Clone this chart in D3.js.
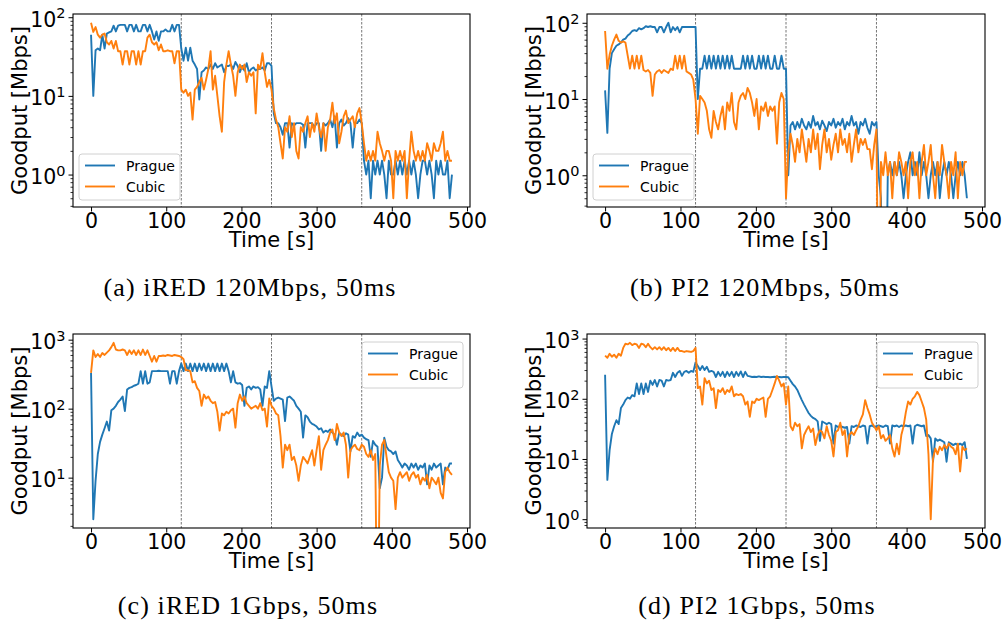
<!DOCTYPE html>
<html>
<head>
<meta charset="utf-8">
<script src="https://cdn.jsdelivr.net/npm/d3@7"></script>
<style>
  body { margin: 0; background: #fff; }
  svg { display: block; }
</style>
</head>
<body>
<svg id="fig" width="1006" height="623"></svg>
<script>
// goodput samples, one every 3 s from 0 to 480 s (rows = 30 s)
const sampleStep = 3;
const times = d3.range(0, 481, sampleStep);
const xTicks = [0, 100, 200, 300, 400, 500];
const phaseChanges = [120, 240, 360];
const seriesNames = ['Prague', 'Cubic'];
const seriesColors = ['#1f77b4', '#ff7f0e'];
const captions = ['(a) iRED 120Mbps, 50ms', '(b) PI2 120Mbps, 50ms', '(c) iRED 1Gbps, 50ms', '(d) PI2 1Gbps, 50ms'];

const pragueA = [
  60, 10, 38, 40, 38, 60, 40, 62, 64, 66,
  78, 66, 78, 80, 80, 80, 66, 80, 80, 66,
  80, 66, 66, 80, 80, 66, 80, 66, 52, 66,
  50, 66, 66, 70, 66, 66, 80, 66, 80, 80,
  40, 28, 41, 28, 41, 28, 25, 22, 9, 20,
  21, 23, 22, 25, 22, 26, 23, 24, 25, 20,
  24, 24, 25, 22, 27, 24, 20, 24, 21, 26,
  20, 22, 23, 21, 22, 22, 23, 21, 26, 26,
  24, 6, 4.5, 4.5, 4, 3.2, 4.5, 4.5, 2.2, 4.5,
  4.2, 4.5, 4.5, 4.5, 4.3, 2.2, 4.5, 4.5, 4.5, 4,
  4.5, 4.5, 2, 4.5, 4.2, 4.5, 5, 4, 5.5, 2.2,
  4.5, 5, 4.2, 4.5, 5.2, 4.5, 2.2, 4.5, 4.5, 5,
  4.5, 1.5, 1, 1.5, 0.5, 1.5, 1, 1.5, 1, 1.5,
  1, 0.5, 1.5, 1, 1, 1.5, 1, 1.5, 1, 1.5,
  1, 1.5, 1, 1.5, 1, 0.5, 1, 1.5, 1.5, 1,
  1.5, 1, 0.5, 1.5, 1, 1.5, 1, 1, 1.5, 0.5,
  1
];
const cubicA = [
  85, 65, 75, 60, 55, 60, 62, 48, 45, 50,
  40, 50, 37, 37, 25, 37, 37, 25, 37, 37,
  25, 37, 25, 37, 37, 55, 60, 48, 45, 48,
  38, 45, 37, 37, 38, 37, 37, 26, 37, 37,
  12, 11, 12, 10, 11, 5, 12, 13, 15, 17,
  12, 16, 22, 37, 12, 18, 10, 5.5, 3.5, 15,
  25, 37, 25, 18, 10, 20, 25, 22, 25, 15,
  20, 18, 20, 6, 25, 22, 35, 20, 13, 16,
  12, 7, 5, 4, 2.5, 1.6, 4, 3.5, 5.5, 3,
  4.5, 2, 1.6, 4, 3.5, 4.5, 5.5, 3, 4.5, 3.5,
  6, 4, 3, 4.5, 2, 4, 5, 8.2, 4.5, 6,
  2.5, 3.5, 5.5, 6.5, 4.5, 5, 5.5, 4, 6, 7,
  4.5, 2.5, 1.5, 2, 1.5, 2, 1.5, 3.5, 2.5, 2,
  1.5, 2, 2, 1.5, 0.5, 2, 1.5, 2, 1.5, 2,
  0.5, 1.5, 3.5, 2, 1.5, 2, 1.5, 2, 1.5, 2.5,
  2, 1.5, 2.5, 2, 2, 2.5, 3.5, 1.5, 2, 1.5,
  1.5
];
const pragueB = [
  13, 3.6, 25, 40, 45, 50, 52, 55, 60, 62,
  68, 72, 78, 80, 78, 85, 82, 85, 90, 88,
  90, 88, 88, 75, 88, 88, 75, 88, 100, 75,
  88, 80, 88, 75, 88, 88, 88, 88, 88, 88,
  88, 10, 25, 25, 37, 25, 37, 25, 37, 25,
  37, 25, 37, 25, 37, 25, 37, 25, 25, 25,
  25, 37, 25, 37, 25, 37, 25, 25, 37, 25,
  37, 25, 37, 25, 25, 37, 25, 25, 37, 25,
  25, 1, 4.5, 5, 4, 5, 4.2, 5.5, 4.5, 4,
  5, 4.2, 6, 4.5, 5, 4, 5.2, 4.5, 3.8, 5,
  4.5, 5.5, 4.2, 5, 4.5, 5.5, 4, 5, 4.5, 6,
  4.5, 5, 3.5, 5, 4.5, 5.5, 4.2, 3.5, 5, 4.5,
  5, 1, 0.5, 0, 0, 1, 1.5, 1, 1.5, 1,
  1.5, 1, 0.5, 1, 1.5, 2, 1, 1.5, 1, 2,
  1, 1.5, 1, 0.5, 1, 1.5, 1, 1.5, 0.5, 1,
  1.5, 1, 1.5, 1, 0.5, 1, 1.5, 1, 1.5, 1,
  0.5
];
const cubicB = [
  78, 25, 38, 50, 60, 70, 58, 55, 57, 55,
  37, 25, 37, 25, 37, 25, 37, 24, 23, 24,
  22, 11, 21, 23, 24, 22, 24, 23, 22, 25,
  24, 37, 25, 37, 25, 37, 23, 22, 21, 18,
  10, 3.5, 11, 10, 9, 7, 4, 3.1, 7, 5,
  4, 6, 8, 4, 9, 7, 12, 5, 4, 9,
  11, 12, 10, 14, 12, 9, 6, 10, 4, 8,
  7, 9, 6, 8, 7, 8, 2.6, 9, 12, 10,
  0.5, 2, 3.5, 2.5, 1.5, 3, 2, 4, 2.5, 1.5,
  3, 2, 4, 2.2, 3.5, 1.2, 2.5, 4, 2, 3,
  1.6, 2.5, 3.5, 2, 4, 2.5, 3, 2, 3.5, 1.5,
  2.5, 4, 2, 3, 2.5, 3, 2.2, 2.2, 1.2, 2.5,
  4, 0, 1.5, 1, 2, 1, 1.5, 0.5, 1.5, 1,
  2, 1.5, 1, 1.5, 0.5, 1.5, 2, 1, 1.5, 0.5,
  1.5, 2.5, 1, 1.5, 2.5, 1, 0.5, 1.5, 1, 2.5,
  1.5, 1, 0.5, 1.5, 1, 2, 0.5, 1.5, 1, 1.5,
  1.5
];
const pragueC = [
  330, 2.5, 9, 22, 33, 42, 52, 65, 48, 95,
  100, 110, 125, 135, 150, 92, 190, 200, 205, 215,
  220, 230, 350, 230, 350, 230, 240, 350, 350, 350,
  355, 350, 350, 350, 350, 230, 350, 350, 230, 350,
  450, 350, 450, 350, 450, 350, 450, 350, 450, 360,
  450, 350, 450, 350, 450, 350, 450, 350, 450, 350,
  450, 350, 240, 350, 240, 230, 235, 220, 110, 200,
  210, 190, 210, 200, 205, 190, 110, 210, 200, 350,
  210, 130, 140, 145, 140, 135, 66, 145, 150, 140,
  130, 110, 100, 90, 38, 80, 75, 65, 60, 58,
  55, 50, 52, 45, 48, 46, 50, 45, 42, 30,
  45, 42, 40, 44, 42, 24, 40, 38, 45, 40,
  42, 38, 36, 35, 20, 34, 30, 28, 7, 10,
  38, 28, 25, 24, 22, 24, 18, 16, 14, 16,
  15, 13, 16, 14, 16, 13, 15, 14, 16, 8,
  15, 13, 16, 14, 15, 16, 8, 14, 13, 16,
  16
];
const cubicC = [
  330, 700, 560, 620, 560, 640, 600, 650, 700, 780,
  900, 720, 700, 700, 720, 700, 600, 700, 620, 700,
  600, 700, 600, 720, 600, 700, 580, 480, 580, 480,
  580, 580, 590, 580, 600, 590, 580, 600, 590, 580,
  560, 520, 360, 360, 350, 240, 250, 200, 180, 110,
  160, 140, 150, 130, 120, 125, 90, 48, 85, 80,
  90, 85, 95, 100, 53, 120, 160, 130, 150, 120,
  110, 100, 105, 110, 100, 120, 95, 100, 55, 140,
  110, 100, 85, 80, 40, 14, 30, 25, 30, 18,
  20, 15, 9, 15, 20, 18, 16, 20, 25, 15,
  25, 40, 13, 25, 30, 35, 45, 50, 35, 60,
  45, 40, 45, 30, 10, 25, 28, 30, 26, 25,
  30, 28, 22, 20, 25, 18, 22, 0, 15, 30,
  35, 20, 12, 10, 9, 3.5, 10, 12, 10, 11,
  12, 9, 11, 12, 10, 11, 8, 10, 9, 11,
  7, 10, 9, 8, 10, 6, 5, 12, 14, 12,
  11
];
const pragueD = [
  250, 4.5, 14, 26, 35, 44, 38, 70, 80, 95,
  105, 100, 115, 110, 180, 120, 180, 120, 180, 130,
  200, 170, 205, 160, 205, 200, 160, 205, 200, 205,
  270, 230, 270, 290, 240, 280, 290, 270, 290, 280,
  400, 350, 300, 350, 300, 340, 280, 290, 280, 230,
  280, 240, 280, 230, 280, 240, 280, 230, 280, 240,
  285, 230, 280, 240, 235, 230, 232, 230, 235, 230,
  232, 230, 230, 228, 230, 232, 230, 230, 228, 230,
  230, 228, 200, 175, 160, 140, 115, 95, 80, 68,
  58, 52, 48, 46, 42, 20, 42, 40, 38, 40,
  38, 18, 36, 34, 35, 34, 33, 34, 18, 35,
  34, 36, 35, 34, 36, 35, 18, 35, 36, 34,
  35, 36, 35, 34, 36, 35, 18, 36, 35, 36,
  34, 36, 35, 36, 35, 36, 18, 35, 37, 36,
  35, 36, 24, 25, 22, 9, 22, 20, 21, 20,
  19, 9, 19, 18, 17, 18, 17, 18, 17, 19,
  10
];
const cubicD = [
  520, 480, 560, 500, 540, 480, 560, 520, 700, 820,
  800, 850, 780, 820, 800, 700, 820, 800, 720, 820,
  720, 660, 720, 660, 720, 650, 720, 640, 700, 620,
  700, 620, 700, 620, 620, 600, 620, 610, 600, 620,
  700, 150, 160, 80, 220, 180, 200, 140, 150, 70,
  140, 130, 150, 120, 140, 130, 160, 110, 120, 115,
  120, 110, 80, 90, 50, 90, 85, 100, 95, 100,
  105, 50, 100, 110, 140, 180, 240, 200, 160, 180,
  80, 160, 35, 30, 40, 35, 38, 15, 25, 30,
  35, 28, 32, 17, 25, 30, 28, 22, 35, 25,
  20, 11, 28, 30, 40, 25, 30, 11, 25, 28,
  25, 30, 35, 45, 55, 95, 70, 55, 40, 35,
  30, 35, 22, 25, 20, 22, 25, 15, 11, 18,
  12, 25, 35, 60, 90, 80, 100, 110, 130, 115,
  90, 70, 45, 12, 1.0, 10, 15, 12, 16, 14,
  17, 15, 18, 16, 15, 12, 18, 6.2, 16, 14,
  15
];

const panelSeries = [
  [pragueA, cubicA],
  [pragueB, cubicB],
  [pragueC, cubicC],
  [pragueD, cubicD]
];

// plot boxes on the page, legend corner and caption centre
const layout = [
  { left: 73, top: 14, width: 397, height: 193, legend: 'lower', capX: 250, capY: 296 },
  { left: 587, top: 14, width: 398, height: 193, legend: 'lower', capX: 765, capY: 296 },
  { left: 73, top: 334, width: 397, height: 194, legend: 'upper', capX: 248, capY: 614 },
  { left: 587, top: 334, width: 398, height: 194, legend: 'upper', capX: 757, capY: 614 }
];

const sansFont = "'DejaVu Sans', sans-serif";
const tickFont = 20.5;
const svg = d3.select('#fig');

layout.forEach((box, i) => drawPanel(box, panelSeries[i], captions[i], i));

function drawPanel(box, series, caption, idx) {
  const g = svg.append('g').attr('transform', `translate(${box.left},${box.top})`);

  // matplotlib-like autoscale: 5% margins, log margins on y, zeros ignored
  const x = d3.scaleLinear().domain([-24, 504]).range([0, box.width]);
  const positives = series.flat().filter(v => v > 0);
  const lo = Math.log10(d3.min(positives));
  const hi = Math.log10(d3.max(positives));
  const pad = (hi - lo) * 0.05;
  const y = d3.scaleLog().domain([10 ** (lo - pad), 10 ** (hi + pad)]).range([box.height, 0]);
  const floor = y.domain()[0] / 100;

  const clipId = 'clip' + idx;
  g.append('clipPath').attr('id', clipId)
    .append('rect').attr('width', box.width).attr('height', box.height);

  const plot = g.append('g').attr('clip-path', `url(#${clipId})`);

  plot.selectAll('.phase')
    .data(phaseChanges)
    .enter().append('line')
    .attr('x1', d => x(d)).attr('x2', d => x(d))
    .attr('y1', 0).attr('y2', box.height)
    .attr('stroke', '#666')
    .attr('stroke-width', 0.9)
    .attr('stroke-dasharray', '2.5,1.5');

  const line = d3.line()
    .x((d, i) => x(times[i]))
    .y(d => y(Math.max(d, floor)));

  series.forEach((vals, s) => {
    plot.append('path')
      .datum(vals)
      .attr('fill', 'none')
      .attr('stroke', seriesColors[s])
      .attr('stroke-width', 1.9)
      .attr('stroke-linejoin', 'round')
      .attr('d', line);
  });

  // axes
  const decades = d3.range(-3, 5).map(e => 10 ** e).filter(v => v >= y.domain()[0] && v <= y.domain()[1]);
  const minors = [];
  d3.range(-3, 5).forEach(e => d3.range(2, 10).forEach(m => {
    const v = m * 10 ** e;
    if (v >= y.domain()[0] && v <= y.domain()[1]) minors.push(v);
  }));

  g.append('g')
    .call(d3.axisLeft(y).tickValues(minors).tickSize(2.5).tickFormat(''))
    .call(a => a.select('.domain').remove())
    .call(a => a.selectAll('line').attr('stroke', '#000').attr('stroke-width', 0.8));

  const yAxis = g.append('g')
    .call(d3.axisLeft(y).tickValues(decades).tickSize(4.5).tickPadding(3).tickFormat(''))
    .call(a => a.select('.domain').remove())
    .call(a => a.selectAll('line').attr('stroke', '#000').attr('stroke-width', 1));
  yAxis.selectAll('.tick text')
    .attr('font-family', sansFont)
    .attr('font-size', tickFont)
    .attr('fill', '#000')
    .attr('dy', '0.44em')
    .each(function (d) {
      const t = d3.select(this);
      t.append('tspan').text('10');
      t.append('tspan').attr('dy', -8.5).attr('font-size', 14.5).text(Math.round(Math.log10(d)));
    });

  g.append('g')
    .attr('transform', `translate(0,${box.height})`)
    .call(d3.axisBottom(x).tickValues(xTicks).tickSize(4.5).tickPadding(1.5))
    .call(a => a.select('.domain').remove())
    .call(a => a.selectAll('line').attr('stroke', '#000').attr('stroke-width', 1))
    .call(a => a.selectAll('text')
      .attr('font-family', sansFont)
      .attr('font-size', tickFont)
      .attr('fill', '#000'));

  g.append('rect')
    .attr('width', box.width).attr('height', box.height)
    .attr('fill', 'none').attr('stroke', '#000').attr('stroke-width', 1.1);

  g.append('text')
    .attr('x', box.width / 2).attr('y', box.height + 40)
    .attr('text-anchor', 'middle')
    .attr('font-family', sansFont).attr('font-size', 21)
    .text('Time [s]');

  g.append('text')
    .attr('transform', `translate(-53,${box.height / 2}) rotate(-90)`)
    .attr('text-anchor', 'middle')
    .attr('dominant-baseline', 'central')
    .attr('font-family', sansFont).attr('font-size', 21)
    .text('Goodput [Mbps]');

  // legend
  const lw = 101, lh = 46;
  const lx = box.legend === 'lower' ? 6 : box.width - lw - 7;
  const ly = box.legend === 'lower' ? box.height - lh - 7 : 8;
  const leg = g.append('g').attr('transform', `translate(${lx},${ly})`);
  leg.append('rect')
    .attr('width', lw).attr('height', lh).attr('rx', 3)
    .attr('fill', '#fff').attr('fill-opacity', 0.8)
    .attr('stroke', '#d0d0d0').attr('stroke-width', 1);
  seriesNames.forEach((name, s) => {
    const ry = 11.5 + s * 21;
    leg.append('line')
      .attr('x1', 6).attr('x2', 36).attr('y1', ry).attr('y2', ry)
      .attr('stroke', seriesColors[s]).attr('stroke-width', 1.9);
    leg.append('text')
      .attr('x', 47).attr('y', ry)
      .attr('dominant-baseline', 'central')
      .attr('font-family', sansFont).attr('font-size', 14)
      .text(name);
  });

  svg.append('text')
    .attr('x', box.capX).attr('y', box.capY)
    .attr('text-anchor', 'middle')
    .attr('font-family', "'Liberation Serif', serif")
    .attr('font-size', 26)
    .attr('letter-spacing', 1.1)
    .text(caption);
}
</script>
</body>
</html>
